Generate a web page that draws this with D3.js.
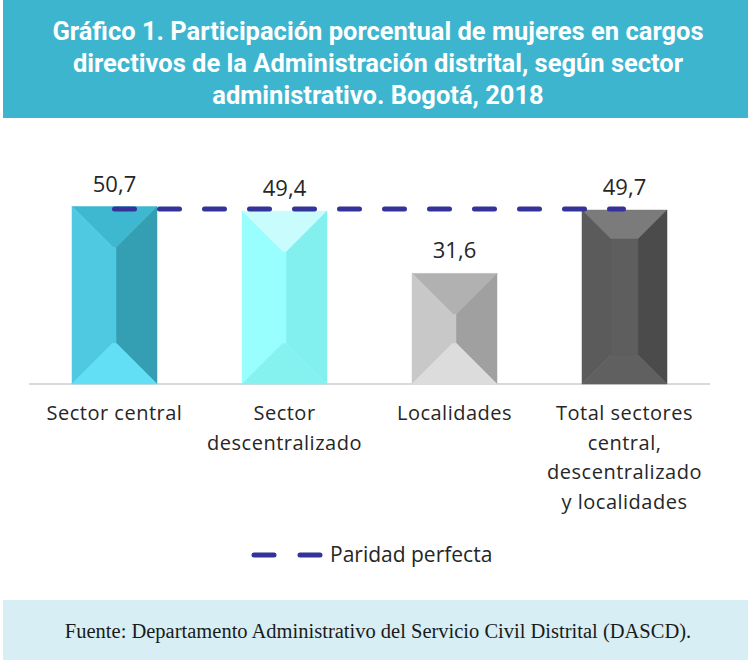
<!DOCTYPE html>
<html>
<head>
<meta charset="utf-8">
<script src="https://cdn.jsdelivr.net/npm/d3@7"></script>
<style>
  body { margin: 0; background: #fff; }
  svg { display: block; }
</style>
</head>
<body>
<div id="chart"></div>
<script>
// data
const categories = [
  ["Sector central"],
  ["Sector", "descentralizado"],
  ["Localidades"],
  ["Total sectores", "central,", "descentralizado", "y localidades"]
];
const values = [50.7, 49.4, 31.6, 49.7];
const valueLabels = ["50,7", "49,4", "31,6", "49,7"];
const parity = 50;

const titleLines = [
  "Gráfico 1. Participación porcentual de mujeres en cargos",
  "directivos de la Administración distrital, según sector",
  "administrativo. Bogotá, 2018"
];
const legendLabel = "Paridad perfecta";
const sourceText = "Fuente: Departamento Administrativo del Servicio Civil Distrital (DASCD).";

// bevel shades per bar: top, left, right, bottom, centre
const shades = [
  ["#3db8d0", "#4fc9e2", "#349fb3", "#62dff5", "#4fc9e2"],
  ["#c9fdfd", "#98fefe", "#82f0ef", "#86f2f0", "#98fefe"],
  ["#b1b1b1", "#c8c8c8", "#a0a0a0", "#dcdcdc", "#c8c8c8"],
  ["#7b7b7b", "#5b5b5b", "#4b4b4b", "#606060", "#5e5e5e"]
];
const bevel = [41, 41, 41, 29];

const W = 751, H = 662;
const svg = d3.select("#chart").append("svg")
  .attr("width", W)
  .attr("height", H);

// =====================
// HEADER / FOOTER
// =====================
svg.append("rect")
  .attr("x", 3).attr("y", 0)
  .attr("width", 745).attr("height", 118)
  .attr("fill", "#3db5cf");

svg.append("g")
  .selectAll("text")
  .data(titleLines)
  .join("text")
  .attr("x", 378)
  .attr("y", (d, i) => 40 + i * 32)
  .attr("text-anchor", "middle")
  .attr("fill", "white")
  .style("font-family", "Roboto, sans-serif")
  .style("font-weight", "bold")
  .style("font-size", "25.5px")
  .text(d => d);

svg.append("rect")
  .attr("x", 3).attr("y", 600)
  .attr("width", 745).attr("height", 60)
  .attr("fill", "#d7eef4");

svg.append("text")
  .attr("x", 378)
  .attr("y", 638)
  .attr("text-anchor", "middle")
  .attr("fill", "#1a1a1a")
  .style("font-family", "'Liberation Serif', serif")
  .style("font-size", "20.5px")
  .text(sourceText);

// =====================
// SCALES
// =====================
const x = d3.scaleBand()
  .domain(d3.range(values.length))
  .range([29.5, 709.5])
  .paddingInner(0.5)
  .paddingOuter(0.25);

const y = d3.scaleLinear()
  .domain([0, 60])
  .range([384, 174]);

// baseline
svg.append("line")
  .attr("x1", 29).attr("x2", 710)
  .attr("y1", y(0)).attr("y2", y(0))
  .attr("stroke", "#d9d9d9")
  .attr("stroke-width", 2);

// =====================
// BEVELLED BARS
// =====================
const bars = svg.append("g")
  .selectAll("g")
  .data(values)
  .join("g");

bars.each(function(v, i) {
  const g = d3.select(this);
  const x0 = x(i), x1 = x(i) + x.bandwidth();
  const y0 = y(v), y1 = y(0);
  const b = Math.min(bevel[i], x.bandwidth() / 2, (y1 - y0) / 2);
  const ix0 = x0 + b, ix1 = x1 - b, iy0 = y0 + b, iy1 = y1 - b;
  const faces = [
    [[x0, y0], [x1, y0], [ix1, iy0], [ix0, iy0]],
    [[x0, y0], [ix0, iy0], [ix0, iy1], [x0, y1]],
    [[x1, y0], [x1, y1], [ix1, iy1], [ix1, iy0]],
    [[x0, y1], [ix0, iy1], [ix1, iy1], [x1, y1]],
    [[ix0, iy0], [ix1, iy0], [ix1, iy1], [ix0, iy1]]
  ];
  g.selectAll("polygon")
    .data(faces)
    .join("polygon")
    .attr("points", d => d.map(p => p.join(",")).join(" "))
    .attr("fill", (d, k) => shades[i][k])
    .attr("stroke", (d, k) => shades[i][k])
    .attr("stroke-width", 0.5);
});

// value labels
svg.append("g")
  .selectAll("text")
  .data(values)
  .join("text")
  .attr("x", (d, i) => x(i) + x.bandwidth() / 2)
  .attr("y", d => y(d) - 15)
  .attr("text-anchor", "middle")
  .attr("fill", "#262626")
  .style("font-family", "'Open Sans', sans-serif")
  .style("font-size", "22px")
  .text((d, i) => valueLabels[i]);

// parity line
svg.append("line")
  .attr("x1", 114.5).attr("x2", 623.5)
  .attr("y1", y(parity)).attr("y2", y(parity))
  .attr("stroke", "#333399")
  .attr("stroke-width", 5)
  .attr("stroke-linecap", "round")
  .attr("stroke-dasharray", "20,25");

// category labels
const cat = svg.append("g")
  .selectAll("text")
  .data(categories)
  .join("text")
  .attr("text-anchor", "middle")
  .attr("fill", "#262626")
  .style("font-family", "'Open Sans', sans-serif")
  .style("font-size", "20px")
  .style("letter-spacing", "0.5px");

cat.selectAll("tspan")
  .data((d, i) => d.map(line => ({ line, i })))
  .join("tspan")
  .attr("x", d => x(d.i) + x.bandwidth() / 2)
  .attr("y", (d, j) => 420 + j * 29.5)
  .text(d => d.line);

// =====================
// LEGEND
// =====================
const legend = svg.append("g");
legend.append("line")
  .attr("x1", 254).attr("x2", 321)
  .attr("y1", 555).attr("y2", 555)
  .attr("stroke", "#333399")
  .attr("stroke-width", 5)
  .attr("stroke-linecap", "round")
  .attr("stroke-dasharray", "20,26");

legend.append("text")
  .attr("x", 330)
  .attr("y", 562)
  .attr("fill", "#262626")
  .style("font-family", "'Open Sans', sans-serif")
  .style("font-size", "21px")
  .text(legendLabel);
</script>
</body>
</html>
